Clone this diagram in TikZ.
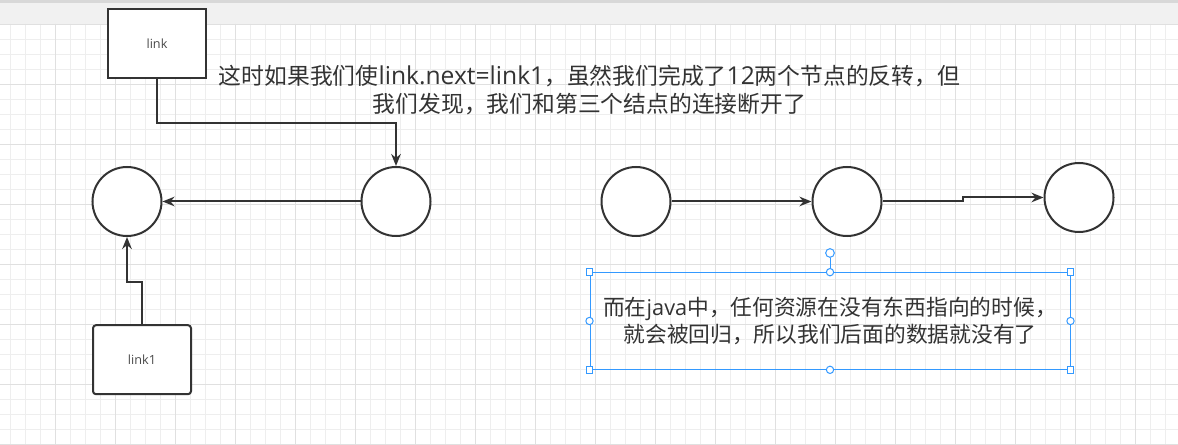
\documentclass[tikz,border=0pt]{standalone}
\usepackage{fontspec}
\setmainfont{Noto Sans CJK SC}
\newfontfamily\latinfont{Open Sans}
\newfontfamily\latinwide[Scale=1.08]{Open Sans}
\usetikzlibrary{arrows.meta}
\definecolor{ink}{HTML}{333333}
\definecolor{labelgray}{HTML}{4A4A4A}
\definecolor{gridminor}{HTML}{EEEEEE}
\definecolor{gridmajor}{HTML}{E0E0E0}
\definecolor{selblue}{HTML}{3399FF}
\definecolor{barlight}{HTML}{F1F1F1}
\definecolor{bardark}{HTML}{D8D8D8}
\tikzset{
  boxnode/.style={draw=ink, line width=1.5pt, fill=white, minimum width=73.5pt,
    minimum height=51.75pt, inner sep=0pt, text=labelgray,
    font=\latinfont\fontsize{9.5pt}{11pt}\selectfont},
  circnode/.style={circle, draw=ink, line width=1.5pt, fill=white,
    minimum size=51.75pt, inner sep=0pt},
  conn/.style={draw=ink, line width=1.5pt, -{Stealth[length=9pt,width=7.2pt]}},
  bigtext/.style={align=center, text=ink, inner sep=0pt,
    font=\fontsize{17.1pt}{21.45pt}\selectfont},
  notetext/.style={align=center, text=ink, draw=selblue, line width=0.75pt,
    minimum width=360pt, minimum height=72.5pt, inner sep=0pt,
    font=\fontsize{16.3pt}{20.6pt}\selectfont},
  sqhandle/.style={draw=selblue, fill=white, line width=0.75pt,
    minimum size=5pt, inner sep=0pt},
  rdhandle/.style={circle, draw=selblue, fill=white, line width=0.75pt,
    minimum size=5.5pt, inner sep=0pt},
  gridline/.style={line width=0.75pt}
}
\begin{document}
\begin{tikzpicture}[x=0.75pt,y=-0.75pt]
\useasboundingbox (0,0) rectangle (1178,445);
% canvas
\fill[white] (0,0) rectangle (1178,445);
\fill[barlight] (0,0) rectangle (1178,24);
\fill[bardark] (0,0) rectangle (1178,3.5);
% grid
\foreach \k in {0,...,78} \draw[gridline, gridminor] ({10.5+15*\k},24) -- ({10.5+15*\k},445);
\foreach \k in {0,...,28} \draw[gridline, gridminor] (0,{24.5+15*\k}) -- (1178,{24.5+15*\k});
\foreach \k in {0,...,19} \draw[gridline, gridmajor] ({55.5+60*\k},24) -- ({55.5+60*\k},445);
\foreach \k in {0,...,7} \draw[gridline, gridmajor] (0,{24.5+60*\k}) -- (1178,{24.5+60*\k});

% left group
\node[boxnode] (link) at (157,43.5) {link};
\node[circnode] (c1) at (127,201.5) {};
\node[circnode] (c2) at (396,201.5) {};
\node[boxnode, rounded corners=2.25pt] (link1) at (142,359.7) {link1};

\node[bigtext] (caption) at (589.5,90)
  {这时如果我们使{\latinwide link.next=link1}，虽然我们完成了{\latinwide 12}两个节点的反转，但\\
   我们发现，我们和第三个结点的连接断开了};

\draw[conn] (link.south) -- ++(0,44) -| (c2.north);
\draw[conn] (c2.west) -- (c1.east);
\draw[conn] (link1.north) -- ++(0,-42.5) -| (c1.south);

% right group
\node[circnode] (ca) at (636,201.5) {};
\node[circnode] (cb) at (847,201.5) {};
\node[circnode] (cc) at (1079,197.5) {};
\coordinate (bend) at (963,201.5);
\draw[conn] (ca.east) -- (cb.west);
\draw[conn] (cb.east) -- (bend) |- (cc.west);

% selected text box
\node[notetext] (note) at (830,321)
  {而在{\latinfont java}中，任何资源在没有东西指向的时候，\\
   就会被回归，所以我们后面的数据就没有了};
\node[rdhandle, minimum size=6.5pt] (rot) at (830,253) {};
\draw[selblue, line width=0.75pt] (rot.south) -- (note.north);
\foreach \a in {north west, north east, south west, south east}
  \node[sqhandle] at (note.\a) {};
\foreach \a in {north, south, east, west}
  \node[rdhandle] at (note.\a) {};
\end{tikzpicture}
\end{document}
